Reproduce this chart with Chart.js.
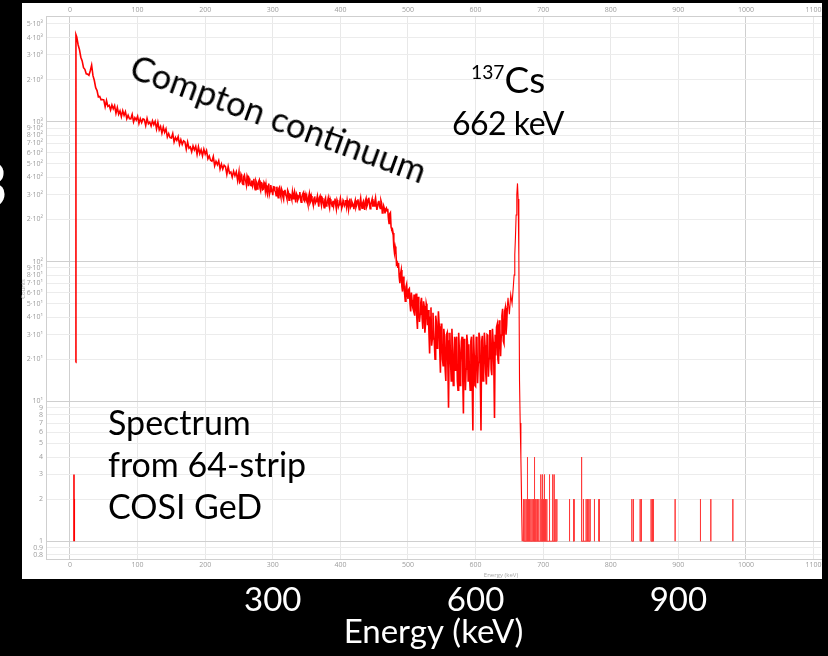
<!DOCTYPE html>
<html>
<head>
<meta charset="utf-8">
<script src="https://cdn.jsdelivr.net/npm/chart.js@4/dist/chart.umd.min.js"></script>
<style>
  html, body { margin: 0; padding: 0; background: #000; }
  #wrap { position: relative; width: 828px; height: 656px; overflow: hidden; background: #000; }
  #spectrum { position: absolute; left: 0; top: 0; }
  .note { position: absolute; font-family: Lato, "Open Sans", sans-serif; color: #000; white-space: nowrap; line-height: 1; }
  .note sup { font-size: 0.52em; vertical-align: 0.72em; line-height: 0; }
</style>
</head>
<body>
<div id="wrap">
  <canvas id="spectrum" width="828" height="656"></canvas>
  <div class="note" id="compton" style="left:138px; top:49px; font-size:34.5px; transform:rotate(20deg); transform-origin:0 0;">Compton continuum</div>
  <div class="note" id="isotope" style="left:471px; top:60px; font-size:37px;"><sup>137</sup>Cs</div>
  <div class="note" id="lineEnergy" style="left:452px; top:107px; font-size:32px; letter-spacing:-0.5px;">662 keV</div>
  <div class="note" id="detector" style="left:108px; top:401px; font-size:34px; line-height:42px;">Spectrum<br>from 64-strip<br>COSI GeD</div>
  <div class="note" id="edgeDigit" style="left:-28px; top:152px; font-size:62px; color:#fff;">3</div>
</div>
<script>
// ---- 137Cs spectrum, 64-strip COSI germanium detector ----

// low-energy threshold counts
const thresholdKeV = [5.9, 6.3];
const thresholdCounts = [3, 2];

// leading edge of the spectrum
const leadingKeV = [8.6, 8.8];
const leadingCounts = [19, 4190];

// low-energy continuum, 2 keV channels, 10 - 248 keV
const continuumStartKeV = 10;
const continuumBinKeV = 2;
const continuumCounts = [
  4030, 3550, 3280, 2890, 2720, 2435, 2370, 2200, 2190, 2145,
  2315, 2535, 2135, 1970, 1750, 1670, 1505, 1515, 1435, 1440,
  1430, 1278, 1420, 1288, 1308, 1211, 1318, 1235, 1302, 1147,
  1261, 1130, 1193, 1086, 1200, 1110, 1180, 1050, 1113, 1051,
  1048, 1128, 996, 1069, 1028, 1092, 971, 1052, 986, 1047,
  1036, 938, 1055, 966, 994, 932, 1016, 953, 1007, 888,
  990, 874, 923, 827, 915, 838, 889, 777, 823, 769,
  764, 823, 716, 770, 735, 783, 687, 743, 687, 729,
  717, 636, 716, 647, 660, 610, 671, 628, 667, 585,
  662, 590, 630, 570, 636, 586, 622, 542, 569, 529,
  521, 563, 484, 521, 493, 526, 458, 498, 458, 488,
  477, 420, 477, 428, 437, 401, 443, 411, 438, 379
];

// plateau below the Compton edge, 1 keV channels, 250 - 469 keV
const plateauStartKeV = 250;
const plateauBinKeV = 1;
const plateauCounts = [
  439, 368, 374, 421, 409, 362, 356, 404, 415, 388, 374, 352, 411, 398, 346, 392, 379, 352, 349, 380,
  350, 372, 391, 340, 327, 378, 366, 330, 347, 372, 382, 336, 322, 366, 363, 326, 329, 368, 359, 320,
  353, 318, 303, 344, 361, 302, 317, 352, 330, 320, 298, 343, 342, 322, 314, 296, 343, 312, 286, 333,
  340, 306, 290, 330, 319, 290, 278, 318, 326, 300, 294, 280, 324, 315, 274, 303, 301, 292, 279, 312,
  281, 300, 316, 288, 265, 306, 298, 276, 284, 296, 314, 280, 266, 290, 301, 309, 275, 270, 302, 288,
  298, 270, 256, 289, 305, 262, 269, 294, 279, 272, 254, 283, 292, 262, 269, 278, 294, 268, 247, 286,
  294, 268, 252, 285, 278, 258, 243, 276, 285, 250, 258, 270, 285, 255, 242, 279, 268, 263, 248, 272,
  250, 270, 282, 255, 238, 276, 267, 246, 255, 266, 283, 262, 241, 250, 274, 268, 251, 258, 276, 248,
  274, 255, 236, 270, 282, 244, 250, 268, 260, 252, 237, 262, 274, 244, 253, 270, 279, 250, 235, 266,
  284, 256, 241, 262, 270, 250, 234, 272, 282, 246, 254, 274, 286, 262, 239, 256, 268, 280, 247, 262,
  250, 270, 286, 258, 234, 248, 265, 272, 248, 240, 273, 262, 223, 232, 250, 240, 221, 236, 241, 230
];

// Compton edge and valley, 1 keV channels, 470 - 647 keV
const valleyStartKeV = 470;
const valleyBinKeV = 1;
const valleyCounts = [
  238, 205, 187, 220, 224, 176, 169, 170, 160, 128, 116, 128, 121, 96, 98, 90, 98, 78, 70, 82,
  87, 66, 61, 78, 71, 59, 52, 66, 69, 58, 54, 63, 64, 50, 44, 60, 53, 47, 45, 58,
  41, 52, 59, 40, 33, 56, 49, 37, 42, 51, 55, 39, 33, 52, 48, 31, 36, 50, 47, 35,
  45, 31, 22, 40, 47, 25, 28, 43, 32, 26, 20, 41, 37, 24, 26, 44, 36, 23, 16, 34,
  36, 20, 18, 33, 29, 17, 14, 30, 31, 18, 9, 27, 31, 19, 14, 33, 23.5, 13, 16, 29,
  16.7, 27, 29, 14, 12, 31, 23.4, 13, 19, 27, 29, 15, 8.2, 28, 25.6, 12, 17, 30, 26.5, 14,
  25.6, 15, 12, 27, 29, 14, 6.2, 30, 21.4, 13, 12.8, 29, 26.7, 13.5, 19, 31, 28.7, 15, 6.2, 27,
  29.4, 14, 15.3, 31, 25.2, 16, 13.2, 30, 29.7, 15, 20.2, 32, 32, 17, 15.4, 33, 26.7, 18, 7.6, 30,
  21.3, 34, 35.6, 20, 18.5, 38, 33, 21, 29.8, 41, 45.9, 27, 26, 44, 46.6, 30, 35.3, 48
];

// full-energy peak at 662 keV
const peakKeV    = [647, 648, 650, 652, 654, 656, 657, 658, 659, 660, 661, 662, 663, 664, 665, 666, 667, 668, 669];
const peakCounts = [48,  55,  42,  58,  50,  68,  80,  112, 150, 215, 300, 362, 280, 110, 14,  7,   4,   2,   1];

// single-event channels above the peak
const tailKeV = [
  670.9, 672.9, 674.9, 676.8, 678.3, 679.8, 681.8, 683.7, 685.7, 687.2,
  688.2, 689.6, 691.6, 693.6, 696.5, 698.0, 699.0, 700.5, 701.9, 703.4,
  705.4, 709.4, 713.8, 714.3, 716.3, 717.7, 720.2, 739.0, 744.9, 745.9,
  756.3, 757.2, 759.6, 763.6, 765.6, 767.5, 769.5, 775.9, 782.3, 783.3,
  831.2, 833.6, 843.5, 845.4, 859.7, 861.7, 863.2, 895.2, 932.7, 948.0,
  980.6
];
const tailCounts = [
  2, 2, 2, 4, 2, 2, 2, 2, 2, 4,
  2, 2, 2, 2, 3, 2, 3, 2, 3, 2,
  2, 3, 2, 3, 3, 2, 2, 2, 2, 2,
  4, 2, 2, 2, 2, 2, 2, 2, 2, 2,
  2, 2, 2, 2, 2, 2, 2, 2, 2, 2,
  2
];

// axis ticks
const xTickValues = [0, 100, 200, 300, 400, 500, 600, 700, 800, 900, 1000, 1100];
const yTickValues = [0.8, 0.9, 1, 2, 3, 4, 5, 6, 7, 8, 9,
  10, 20, 30, 40, 50, 60, 70, 80, 90,
  100, 200, 300, 400, 500, 600, 700, 800, 900,
  1000, 2000, 3000, 4000, 5000];
const yTickLabels = ['0.8', '0.9', '1', '2', '3', '4', '5', '6', '7', '8', '9',
  '10¹', '2·10¹', '3·10¹', '4·10¹', '5·10¹', '6·10¹', '7·10¹', '8·10¹', '9·10¹',
  '10²', '2·10²', '3·10²', '4·10²', '5·10²', '6·10²', '7·10²', '8·10²', '9·10²',
  '10³', '2·10³', '3·10³', '4·10³', '5·10³'];
const slideTickValues = [300, 600, 900];

// ---- build point lists ----
const continuumPoints = [];
leadingKeV.forEach((e, i) => continuumPoints.push({ x: e, y: leadingCounts[i] }));
continuumCounts.forEach((c, i) => continuumPoints.push({ x: continuumStartKeV + i * continuumBinKeV, y: c }));
plateauCounts.forEach((c, i) => continuumPoints.push({ x: plateauStartKeV + i * plateauBinKeV, y: c }));
valleyCounts.forEach((c, i) => continuumPoints.push({ x: valleyStartKeV + i * valleyBinKeV, y: c }));
const peakPoints = peakKeV.map((e, i) => ({ x: e, y: peakCounts[i] }));

function spikePoints(energies, counts, joinWithinKeV) {
  const pts = [];
  energies.forEach((e, i) => {
    pts.push({ x: e, y: 1 }, { x: e, y: counts[i] }, { x: e, y: 1 });
    const next = energies[i + 1];
    if (next === undefined || next - e > joinWithinKeV) pts.push({ x: e, y: null });
  });
  return pts;
}
const tailPoints = spikePoints(tailKeV, tailCounts, 5);
const thresholdPoints = spikePoints(thresholdKeV, thresholdCounts, 0);

const isDecade = v => Math.abs(Math.log10(v) - Math.round(Math.log10(v))) < 1e-9;

const framePlugin = {
  id: 'frame',
  beforeDraw(chart) {
    const c = chart.ctx;
    c.save();
    c.fillStyle = '#000';
    c.fillRect(0, 0, chart.width, chart.height);
    c.fillStyle = '#fff';
    c.fillRect(22, 3, 800, 576);
    c.restore();
  },
  afterDraw(chart) {
    const c = chart.ctx;
    c.save();
    c.fillStyle = '#a8a8a8';
    c.font = '6px "Open Sans", sans-serif';
    c.textAlign = 'center';
    c.textBaseline = 'middle';
    c.fillText('Energy (keV)', 501, 575);
    c.translate(23, 289);
    c.rotate(-Math.PI / 2);
    c.fillText('Counts', 0, 0);
    c.restore();
  }
};

const tickFont = { family: '"Open Sans", sans-serif', size: 7 };
const tickColor = '#9c9c9c';
const plainNumber = v => String(v);
const lineStyle = { borderColor: '#ff0000', pointRadius: 0, tension: 0, spanGaps: false };

new Chart(document.getElementById('spectrum'), {
  type: 'line',
  data: {
    datasets: [
      { ...lineStyle, data: continuumPoints, borderWidth: 1.6 },
      { ...lineStyle, data: peakPoints, borderWidth: 1.1 },
      { ...lineStyle, data: tailPoints, borderColor: '#ff3a3a', borderWidth: 1 },
      { ...lineStyle, data: thresholdPoints, borderWidth: 1.6 }
    ]
  },
  options: {
    responsive: false,
    animation: false,
    events: [],
    layout: { padding: { left: 22, top: 3, right: 7, bottom: 0 } },
    plugins: { legend: { display: false }, tooltip: { enabled: false } },
    scales: {
      x: {
        type: 'linear', position: 'bottom', weight: 0, bounds: 'data',
        min: -35.5, max: 1111,
        afterBuildTicks: s => { s.ticks = xTickValues.map(v => ({ value: v })); },
        afterFit: s => { s.height = 20; },
        ticks: { font: tickFont, color: tickColor, padding: 2, maxRotation: 0, autoSkip: false, callback: plainNumber },
        grid: {
          drawTicks: false,
          color: ctx => (ctx.tick && (ctx.tick.value === 0 || ctx.tick.value === 1000)) ? '#cfcfcf' : '#e8e8e8'
        },
        border: { color: '#cfcfcf' }
      },
      xTop: {
        type: 'linear', position: 'top', bounds: 'data',
        min: -35.5, max: 1111,
        afterBuildTicks: s => { s.ticks = xTickValues.map(v => ({ value: v })); },
        afterFit: s => { s.height = 13; },
        ticks: { font: tickFont, color: tickColor, padding: 2, maxRotation: 0, autoSkip: false, callback: plainNumber },
        grid: { display: false, drawTicks: false },
        border: { color: '#cfcfcf' }
      },
      xSlide: {
        type: 'linear', position: 'bottom', weight: 1, bounds: 'data',
        min: -35.5, max: 1111,
        afterBuildTicks: s => { s.ticks = slideTickValues.map(v => ({ value: v })); },
        afterFit: s => { s.height = 77; },
        ticks: { font: { family: 'Lato, "Open Sans", sans-serif', size: 33 }, color: '#fff', padding: 2, maxRotation: 0, autoSkip: false, callback: plainNumber },
        grid: { display: false, drawTicks: false },
        border: { display: false },
        title: { display: true, text: 'Energy (keV)', color: '#fff', font: { family: 'Lato, "Open Sans", sans-serif', size: 33 }, padding: { top: 0, bottom: 4 } }
      },
      y: {
        type: 'logarithmic', position: 'left', bounds: 'data',
        min: 0.746, max: 5700,
        afterBuildTicks: s => { s.ticks = yTickValues.map(v => ({ value: v })); },
        afterFit: s => { s.width = 24; },
        ticks: {
          font: tickFont, color: tickColor, padding: 3, autoSkip: false,
          callback: (value, index) => yTickLabels[index]
        },
        grid: {
          drawTicks: false,
          color: ctx => (ctx.tick && isDecade(ctx.tick.value)) ? '#cfcfcf' : '#ececec'
        },
        border: { color: '#cfcfcf' }
      }
    }
  },
  plugins: [framePlugin]
});
</script>
</body>
</html>
